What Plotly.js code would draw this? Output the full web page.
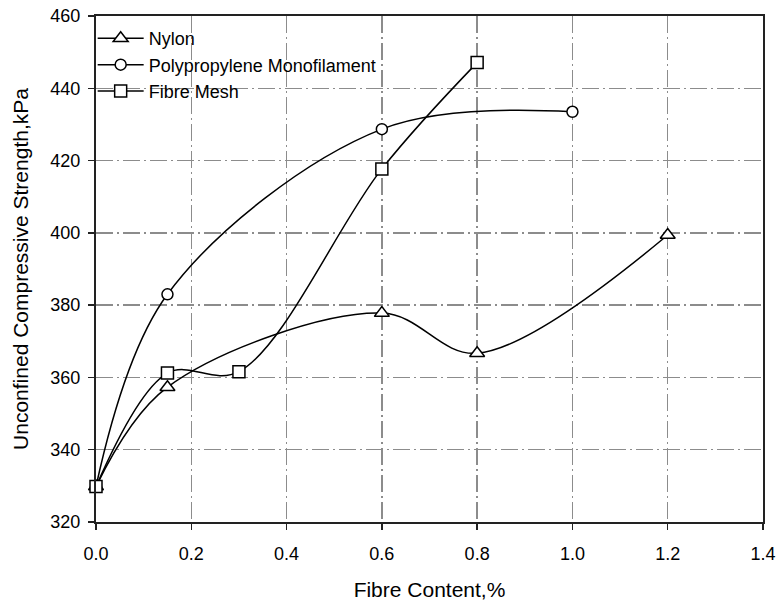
<!DOCTYPE html>
<html>
<head>
<meta charset="utf-8">
<script src="https://cdn.plot.ly/plotly-3.0.1.min.js"></script>
<style>html,body{margin:0;padding:0;background:#fff;}#chart{width:779px;height:606px;}</style>
</head>
<body>
<div id="chart"></div>
<script>
const nylonX = [0, 0.15, 0.6, 0.8, 1.2];
const nylonY = [329.8, 357.3, 377.8, 366.7, 399.4];
const ppX = [0, 0.15, 0.6, 1.0];
const ppY = [329.8, 383.0, 428.7, 433.5];
const meshX = [0, 0.15, 0.3, 0.6, 0.8];
const meshY = [329.8, 361.2, 361.6, 417.7, 447.1];
const xTicks = [0, 0.2, 0.4, 0.6, 0.8, 1.0, 1.2, 1.4];
const xTickText = ["0.0", "0.2", "0.4", "0.6", "0.8", "1.0", "1.2", "1.4"];
const yTicks = [320, 340, 360, 380, 400, 420, 440, 460];

const lineStyle = {color: '#000', width: 1.5, shape: 'spline', smoothing: 1};
const mk = (sym, size) => ({symbol: sym, size: size, color: '#fff', line: {color: '#000', width: 1.5}});

const data = [
  {x: nylonX, y: nylonY, name: 'Nylon', mode: 'lines+markers', line: lineStyle, marker: mk('triangle-up', 13), cliponaxis: false},
  {x: ppX, y: ppY, name: 'Polypropylene Monofilament', mode: 'lines+markers', line: lineStyle, marker: mk('circle', 11), cliponaxis: false},
  {x: meshX, y: meshY, name: 'Fibre Mesh', mode: 'lines+markers', line: lineStyle, marker: mk('square', 12), cliponaxis: false}
];

const gridDash = '17px,4px,2px,4px';
const layout = {
  width: 779, height: 606,
  margin: {l: 96, r: 16, t: 16, b: 84},
  paper_bgcolor: '#fff', plot_bgcolor: '#fff',
  font: {family: 'Liberation Sans, Arial, sans-serif', color: '#000', size: 18},
  showlegend: true,
  legend: {x: -0.005, y: 0.992, xanchor: 'left', yanchor: 'top', bgcolor: 'rgba(0,0,0,0)', borderwidth: 0, font: {size: 18}, tracegroupgap: 0, itemwidth: 46},
  xaxis: {
    range: [0, 1.4], tickvals: xTicks, ticktext: xTickText, ticks: 'outside', ticklen: 6, tickwidth: 1.5, tickcolor: '#222',
    showline: true, linecolor: '#222', linewidth: 2, mirror: true, zeroline: false,
    showgrid: true, gridcolor: '#8c8c8c', gridwidth: 1.3, griddash: gridDash,
    ticklabelstandoff: 8, tickfont: {size: 18},
    title: {text: 'Fibre Content,%', font: {size: 21}, standoff: 20}
  },
  yaxis: {
    range: [320, 460], tickvals: yTicks, ticks: 'outside', ticklen: 6, tickwidth: 1.5, tickcolor: '#222',
    showline: true, linecolor: '#222', linewidth: 2, mirror: true, zeroline: false,
    showgrid: true, gridcolor: '#8c8c8c', gridwidth: 1.3, griddash: gridDash,
    ticklabelstandoff: 4, tickfont: {size: 18},
    title: {text: 'Unconfined Compressive Strength,kPa', font: {size: 21}, standoff: 16}
  }
};
Plotly.newPlot('chart', data, layout, {displayModeBar: false, staticPlot: true});
</script>
</body>
</html>
